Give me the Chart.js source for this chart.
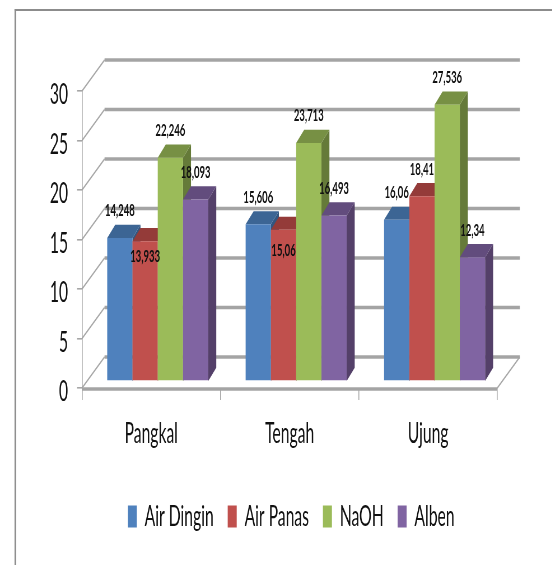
<!DOCTYPE html>
<html><head><meta charset="utf-8">
<style>html,body{margin:0;padding:0;background:#fff;overflow:hidden;width:552px;height:565px}
canvas{display:block;transform-origin:0 0;transform:scaleX(0.56);filter:blur(0.6px)}</style>
<script src="https://cdn.jsdelivr.net/npm/chart.js@4/dist/chart.umd.min.js"></script>
</head><body><canvas id="c" width="986" height="565"></canvas>
<script>
const categories=['Pangkal','Tengah','Ujung'];
const airDingin=[14.248,15.606,16.06];
const airPanas=[13.933,15.06,18.41];
const naoh=[22.246,23.713,27.536];
const alben=[18.093,16.493,12.34];
const seriesNames=['Air Dingin','Air Panas','NaOH','Alben'];
const frontColors=['#4f81bd','#c0504d','#9bbb59','#8064a2'];
const topColors=['#3c6594','#943b39','#779044','#624c7d'];
const sideColors=['#335680','#7e3230','#657a39','#544069'];
const K=552/986, X=v=>v/K;
const DEPTH_X=X(8), DEPTH_Y=13, SHIFT_X=X(6.5), SHIFT_Y=-7, YSCALE=1.0138;
const WALL_X=X(22.5), WALL_Y=31;
const GRID='#a6a6a6';
const LEGEND_PAD=25;
const insideNudge={0:15,1:21};
const fmt=v=>String(v).replace('.',',');
const plugin={
 id:'threeD',
 afterLayout(chart){
  const l=chart.legend;
  const dx=X(290)+2-(l.left+l.right)/2;
  l.left+=dx;l.right+=dx;
  const dy=509-(l.top+l.bottom)/2;
  l.top+=dy;l.bottom+=dy;
 },
 beforeDatasetsDraw(chart){
  const {ctx,scales:{y},chartArea:a}=chart;
  ctx.save();
  const ticks=y.ticks.map(t=>y.getPixelForValue(t.value));
  const b=y.getPixelForValue(0);
  ctx.strokeStyle=GRID;
  ctx.lineWidth=1.6;
  ctx.beginPath();
  ctx.moveTo(a.right,b);ctx.lineTo(a.right+WALL_X,b-WALL_Y);ctx.stroke();
  ticks.forEach(p=>{
   ctx.lineWidth=1.6;ctx.strokeStyle=GRID;
   ctx.beginPath();ctx.moveTo(a.left,p);ctx.lineTo(a.left+WALL_X,p-WALL_Y);ctx.stroke();
   ctx.lineWidth=3.4;ctx.strokeStyle='#a4a4a4';
   ctx.beginPath();ctx.moveTo(a.left+WALL_X,p-WALL_Y);ctx.lineTo(a.right+WALL_X,p-WALL_Y);ctx.stroke();
  });
  ctx.lineWidth=3.4;ctx.strokeStyle='#a4a4a4';
  ctx.beginPath();ctx.moveTo(a.left,b+1);ctx.lineTo(a.right,b+1);ctx.stroke();
  ctx.fillStyle='#8c8c8c';
  ctx.fillRect(X(14.5),9,X(1.6),556);
  ctx.fillRect(X(14.5),9,986,2);
  ctx.restore();
 },
 beforeDatasetDraw(){return false;},
 afterDatasetsDraw(chart){
  const {ctx,scales:{y}}=chart;
  const base=y.getPixelForValue(0);
  ctx.save();
  ctx.translate(SHIFT_X,SHIFT_Y+base);ctx.scale(1,YSCALE);ctx.translate(0,-base);
  chart.data.datasets.forEach((ds,i)=>{
   chart.getDatasetMeta(i).data.forEach(el=>{
    const {x:cx,y:top,width:w}=el.getProps(['x','y','width'],true);
    const l=cx-w/2,r=cx+w/2;
    ctx.fillStyle=sideColors[i];
    ctx.beginPath();ctx.moveTo(r,top);ctx.lineTo(r+DEPTH_X,top-DEPTH_Y);ctx.lineTo(r+DEPTH_X,base-DEPTH_Y);ctx.lineTo(r,base);ctx.closePath();ctx.fill();
    ctx.fillStyle=topColors[i];
    ctx.beginPath();ctx.moveTo(l,top);ctx.lineTo(l+DEPTH_X,top-DEPTH_Y);ctx.lineTo(r+DEPTH_X,top-DEPTH_Y);ctx.lineTo(r,top);ctx.closePath();ctx.fill();
    el.draw(ctx);
   });
  });
  ctx.restore();
  ctx.save();
  ctx.font='700 17px Lato';ctx.fillStyle='#111';ctx.textAlign='center';ctx.textBaseline='middle';
  chart.data.datasets.forEach((ds,i)=>{
   chart.getDatasetMeta(i).data.forEach((el,j)=>{
    const v=ds.data[j];
    const top=base+SHIFT_Y+(el.y-base)*YSCALE;
    const inside=i===1&&v<chart.data.datasets[0].data[j];
    const ly=top+(inside?insideNudge[j]:-27);
    ctx.fillText(fmt(v),el.x+SHIFT_X,ly);
   });
  });
  ctx.restore();
 }
};
const datasets=seriesNames.map((n,i)=>({label:n,data:[airDingin,airPanas,naoh,alben][i],backgroundColor:frontColors[i],borderWidth:0}));
new Chart(document.getElementById('c'),{
 type:'bar',
 data:{labels:categories,datasets},
 plugins:[plugin],
 options:{
  responsive:false,animation:false,devicePixelRatio:1,
  categoryPercentage:0.73,barPercentage:1,
  layout:{padding:{top:91,left:0,right:98,bottom:10}},
  plugins:{
   tooltip:{enabled:false},title:{display:false},
   legend:{position:'bottom',align:'center',labels:{font:{family:'Lato',size:28},color:'#111',boxWidth:X(9),boxHeight:22,padding:LEGEND_PAD}}
  },
  scales:{
   x:{offset:true,
    afterFit(s){s.height=104;},
    grid:{drawOnChartArea:false,color:GRID,lineWidth:1.6,tickLength:12,offset:true},
    border:{display:false},
    ticks:{font:{family:'Lato',size:28},color:'#111',padding:17,maxRotation:0}},
   y:{min:0,max:30,
    afterFit(s){s.width=X(82);},
    grid:{drawOnChartArea:false,color:GRID,lineWidth:1.6,tickLength:X(5)},
    border:{color:GRID,width:1.6},
    ticks:{stepSize:5,font:{family:'Lato',size:28},color:'#111',padding:X(9),labelOffset:4}}
  }
 }
});
</script></body></html>
